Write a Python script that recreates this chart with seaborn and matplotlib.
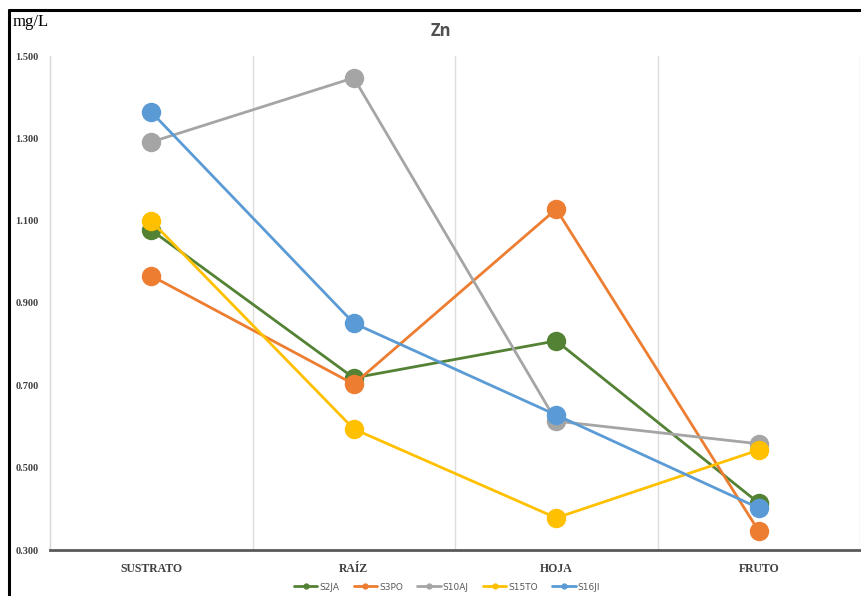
import matplotlib
matplotlib.use("Agg")
import matplotlib.pyplot as plt
from matplotlib.lines import Line2D
import seaborn as sns
import pandas as pd

# Zn concentration (mg/L) per plant compartment
categories = ["SUSTRATO", "RAÍZ", "HOJA", "FRUTO"]
series_names = ["S2JA", "S3PO", "S10AJ", "S15TO", "S16JI"]
s2ja = [1.077, 0.718, 0.808, 0.414]
s3po = [0.966, 0.703, 1.128, 0.346]
s10aj = [1.291, 1.447, 0.613, 0.558]
s15to = [1.099, 0.594, 0.378, 0.543]
s16ji = [1.364, 0.851, 0.628, 0.402]
yticks = [0.3, 0.5, 0.7, 0.9, 1.1, 1.3, 1.5]

colors = ["#548235", "#ED7D31", "#A5A5A5", "#FFC000", "#5B9BD5"]

rows = []
for name, vals in zip(series_names, [s2ja, s3po, s10aj, s15to, s16ji]):
    for i, v in enumerate(vals):
        rows.append({"serie": name, "pos": i, "valor": v})
df = pd.DataFrame(rows)

sns.set_theme(style="white")
plt.rcParams["font.family"] = ["DejaVu Sans"]

fig = plt.figure(figsize=(8.61, 5.96), dpi=100)
ax = fig.add_axes([50 / 861, 1 - 550 / 596, 810 / 861, 494 / 596])

sns.lineplot(data=df, x="pos", y="valor", hue="serie", hue_order=series_names,
             palette=colors, marker="o", markersize=14, markeredgewidth=0,
             linewidth=2.0, sort=False, legend=False, ax=ax, zorder=3)

ax.set_xlim(-0.5, 3.5)
ax.set_ylim(0.3, 1.5)
ax.set_yticks(yticks)
ax.set_yticklabels([f"{t:.3f}" for t in yticks], family="Liberation Serif",
                   fontweight="bold", fontsize=7.5, color="#404040")
ax.set_xticks(range(len(categories)))
ax.set_xticklabels(categories, family="Liberation Serif", fontweight="bold",
                   fontsize=8.5, color="#404040")
ax.tick_params(axis="both", length=0)
ax.tick_params(axis="x", pad=9)
ax.tick_params(axis="y", pad=8)
ax.set_xlabel("")
ax.set_ylabel("")

# vertical separators between categories
for xv in [0.5, 1.5, 2.5, 3.5]:
    ax.axvline(xv, color="#dedede", linewidth=1.0, zorder=1)

for side in ["top", "right"]:
    ax.spines[side].set_visible(False)
ax.spines["left"].set_color("#d6d6d6")
ax.spines["left"].set_linewidth(1.0)
ax.spines["bottom"].set_color("#595959")
ax.spines["bottom"].set_linewidth(2.0)
ax.spines["bottom"].set_zorder(5)

fig.text(441 / 861, 1 - 31 / 596, "Zn", ha="center", va="center",
         fontsize=12, fontweight="bold", color="#505050", family="Open Sans")
fig.text(13 / 861, 1 - 22 / 596, "mg/L", ha="left", va="center",
         fontsize=12, family="Liberation Serif", color="black")

handles = [Line2D([0], [0], color=c, linewidth=2.0, marker="o", markersize=3.5)
           for c in colors]
fig.legend(handles, series_names, loc="center", ncol=5,
           bbox_to_anchor=(447 / 861, 1 - 587 / 596), frameon=False,
           fontsize=6.5, handlelength=2.6, handletextpad=0.2, columnspacing=1.6,
           labelcolor="#595959")

# outer frame lines
fig.add_artist(Line2D([9 / 861, 1.0], [1 - 10 / 596, 1 - 10 / 596],
                      color="black", linewidth=2.2, transform=fig.transFigure))
fig.add_artist(Line2D([9 / 861, 9 / 861], [0, 1 - 10 / 596],
                      color="black", linewidth=2.2, transform=fig.transFigure))

fig.savefig("out.png", dpi=100)
